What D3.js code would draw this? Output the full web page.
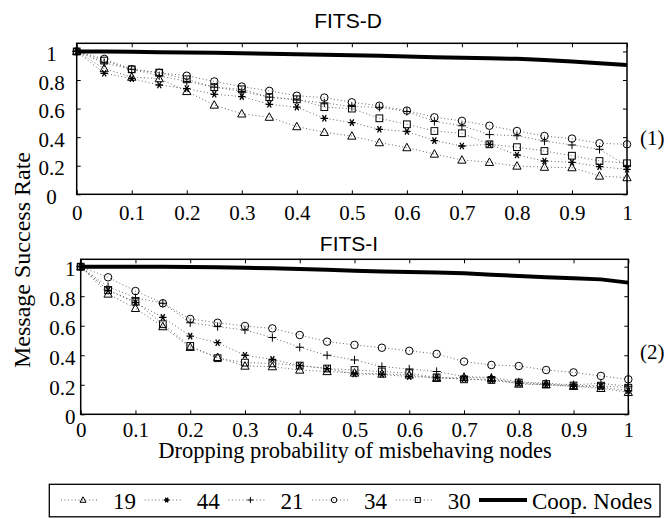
<!DOCTYPE html>
<html><head><meta charset="utf-8">
<script src="https://cdn.jsdelivr.net/npm/d3@7"></script>
<style>body{margin:0;background:#fff}svg{display:block}</style>
</head><body>
<script>
const xValues = [0,0.05,0.1,0.15,0.2,0.25,0.3,0.35,0.4,0.45,0.5,0.55,0.6,0.65,0.7,0.75,0.8,0.85,0.9,0.95,1];
const xTicks = [0,0.1,0.2,0.3,0.4,0.5,0.6,0.7,0.8,0.9,1];
const yTicks = [0,0.2,0.4,0.6,0.8,1];
const seriesNames = ["19","44","21","34","30"];
const seriesSymbols = ["triangle","star","plus","circle","square"];
const coopName = "Coop. Nodes";

// FITS-D panel
const d19 = [1,0.88,0.82,0.81,0.72,0.625,0.563,0.54,0.474,0.434,0.408,0.362,0.327,0.282,0.24,0.224,0.198,0.19,0.187,0.128,0.117];
const d44 = [1,0.847,0.81,0.765,0.74,0.70,0.684,0.63,0.61,0.532,0.502,0.455,0.44,0.376,0.338,0.35,0.275,0.233,0.224,0.194,0.175];
const d21 = [1,0.92,0.875,0.83,0.79,0.75,0.72,0.68,0.66,0.64,0.614,0.609,0.58,0.51,0.48,0.418,0.41,0.373,0.345,0.315,0.2];
const d34 = [1,0.948,0.875,0.85,0.83,0.79,0.754,0.724,0.69,0.677,0.644,0.62,0.586,0.539,0.514,0.48,0.443,0.408,0.39,0.357,0.35];
const d30 = [1,0.936,0.875,0.852,0.805,0.75,0.735,0.68,0.665,0.61,0.6,0.532,0.49,0.443,0.427,0.35,0.33,0.303,0.27,0.233,0.217];
const dCoop = [1,0.999,0.997,0.995,0.993,0.99,0.987,0.984,0.981,0.977,0.973,0.969,0.964,0.96,0.956,0.952,0.948,0.94,0.929,0.917,0.905];

// FITS-I panel
const i19 = [1,0.815,0.718,0.594,0.454,0.386,0.327,0.323,0.30,0.29,0.28,0.273,0.266,0.244,0.25,0.244,0.205,0.2,0.19,0.176,0.149];
const i44 = [1,0.84,0.756,0.657,0.53,0.485,0.40,0.372,0.33,0.31,0.273,0.27,0.255,0.25,0.24,0.23,0.21,0.2,0.19,0.185,0.16];
const i21 = [1,0.865,0.79,0.752,0.62,0.594,0.571,0.52,0.454,0.40,0.368,0.323,0.307,0.29,0.255,0.25,0.22,0.21,0.2,0.21,0.19];
const i34 = [1,0.928,0.835,0.752,0.646,0.62,0.598,0.582,0.537,0.492,0.47,0.451,0.43,0.409,0.357,0.334,0.327,0.30,0.284,0.26,0.237];
const i30 = [1,0.84,0.763,0.61,0.463,0.38,0.35,0.345,0.33,0.31,0.30,0.29,0.278,0.25,0.237,0.233,0.215,0.205,0.195,0.194,0.18];
const iCoop = [1,1,1,0.999,0.998,0.996,0.993,0.989,0.984,0.979,0.973,0.968,0.964,0.96,0.955,0.946,0.937,0.929,0.921,0.914,0.892];

const W = 668, H = 519;
const svg = d3.select("body").append("svg").attr("width", W).attr("height", H);
const SERIF = "'Liberation Serif','Times New Roman',serif";
const SANS = "'Liberation Sans',Arial,sans-serif";

function marker(g, type, x, y, s) {
  let el;
  if (type === "circle") el = g.append("circle").attr("cx", x).attr("cy", y).attr("r", s*0.5);
  else if (type === "square") el = g.append("rect").attr("x", x-s*0.45).attr("y", y-s*0.45).attr("width", s*0.9).attr("height", s*0.9);
  else if (type === "triangle") el = g.append("path").attr("d", `M${x},${y-s*0.58}L${x+s*0.55},${y+s*0.42}L${x-s*0.55},${y+s*0.42}Z`);
  else if (type === "plus") el = g.append("path").attr("d", `M${x-s*0.55},${y}H${x+s*0.55}M${x},${y-s*0.55}V${y+s*0.55}`);
  else {
    const r = s*0.5; let d = `M${x-r},${y}H${x+r}`;
    [60,120].forEach(a => { const dx = r*Math.cos(a*Math.PI/180), dy = r*Math.sin(a*Math.PI/180); d += `M${x-dx},${y-dy}L${x+dx},${y+dy}`; });
    el = g.append("path").attr("d", d);
  }
  el.attr("stroke","#000").attr("fill","none").attr("stroke-width", type === "star" ? 1.3 : 1);
  return el;
}

function panel(cfg) {
  const x = d3.scaleLinear().domain([0,1]).range([cfg.x0, cfg.x1]);
  const y = d3.scaleLinear().domain([0, cfg.ymax]).range([cfg.yb, cfg.yt]);
  const g = svg.append("g");
  g.append("rect").attr("x", cfg.x0).attr("y", cfg.yt).attr("width", cfg.x1-cfg.x0).attr("height", cfg.yb-cfg.yt)
    .attr("fill","none").attr("stroke","#000").attr("stroke-width",1.5);
  const ax = g.append("g").attr("transform", `translate(0,${cfg.yb})`)
    .call(d3.axisBottom(x).tickValues(xTicks).tickSizeInner(-4).tickSizeOuter(0).tickPadding(0).tickFormat(d3.format("~g")));
  ax.select(".domain").remove();
  ax.attr("font-family", null).attr("font-size", null);
  ax.selectAll("text").attr("y", cfg.xlabY - cfg.yb).attr("dy", 0)
    .style("font-family", SERIF).style("font-size", "21px").attr("fill","#000");
  const axt = g.append("g").attr("transform", `translate(0,${cfg.yt})`)
    .call(d3.axisTop(x).tickValues(xTicks).tickSizeInner(-4).tickSizeOuter(0).tickFormat(""));
  axt.select(".domain").remove();
  const ay = g.append("g").attr("transform", `translate(${cfg.x0},0)`)
    .call(d3.axisLeft(y).tickValues(yTicks).tickSizeInner(-4).tickSizeOuter(0).tickFormat(d3.format("~g")));
  ay.select(".domain").remove();
  ay.attr("font-family", null).attr("font-size", null);
  ay.selectAll("text").attr("x", cfg.ylabX - cfg.x0).attr("dy", "0.32em").attr("transform","translate(0,2.5)")
    .attr("text-anchor", cfg.ylabAnchor).style("font-family", SERIF).style("font-size", "21px").attr("fill","#000");
  const ayr = g.append("g").attr("transform", `translate(${cfg.x1},0)`)
    .call(d3.axisRight(y).tickValues(yTicks).tickSizeInner(-4).tickSizeOuter(0).tickFormat(""));
  ayr.select(".domain").remove();
  g.selectAll(".tick line").attr("stroke","#000").attr("stroke-width",1);

  const line = d3.line().x((d,i) => x(xValues[i])).y(d => y(d));
  cfg.series.forEach((s) => {
    g.append("path").attr("d", line(s)).attr("fill","none").attr("stroke","#666")
      .attr("stroke-width",1).attr("stroke-dasharray","1,2.5");
  });
  cfg.series.forEach((s, k) => {
    const mg = g.append("g");
    s.forEach((v,i) => marker(mg, seriesSymbols[k], x(xValues[i]), y(v), 7.5));
  });
  g.append("path").attr("d", line(cfg.coop)).attr("fill","none").attr("stroke","#000").attr("stroke-width",4);
  svg.append("text").attr("x", cfg.titleX).attr("y", cfg.titleY).attr("text-anchor","middle")
    .style("font-family", SANS).style("font-size", "21px").text(cfg.title);
  svg.append("text").attr("x", 640).attr("y", cfg.tagY).style("font-family", SERIF).style("font-size", "21px").text(cfg.tag);
}

panel({x0:76.7, x1:627, yb:194.3, yt:43.3, ymax:1.057, xlabY:220, ylabX:51.5, ylabAnchor:"middle",
  series:[d19,d44,d21,d34,d30], coop:dCoop, title:"FITS-D", titleX:348, titleY:27.5, tag:"(1)", tagY:145});
panel({x0:80.7, x1:628.3, yb:414.3, yt:259.3, ymax:1.05, xlabY:437.5, ylabX:75.5, ylabAnchor:"end",
  series:[i19,i44,i21,i34,i30], coop:iCoop, title:"FITS-I", titleX:349, titleY:250.5, tag:"(2)", tagY:359});

svg.append("text").attr("transform","translate(30,260) rotate(-90)").attr("text-anchor","middle")
  .style("font-family", SERIF).style("font-size", "24px").text("Message Success Rate");
svg.append("text").attr("x", 355).attr("y", 458).attr("text-anchor","middle")
  .style("font-family", SERIF).style("font-size", "22.5px").text("Dropping probability of misbehaving nodes");

const lg = svg.append("g");
lg.append("rect").attr("x",49.3).attr("y",484.3).attr("width",610.7).attr("height",32.5)
  .attr("fill","none").attr("stroke","#000").attr("stroke-width",1.3);
const lx = [83, 166.7, 250.4, 334.1, 417.8];
seriesNames.forEach((n,k) => {
  lg.append("line").attr("x1", lx[k]-22).attr("x2", lx[k]+14).attr("y1",500).attr("y2",500)
    .attr("stroke","#666").attr("stroke-width",1).attr("stroke-dasharray","1,2.5");
  marker(lg, seriesSymbols[k], lx[k], 500, 5.5);
  lg.append("text").attr("x", lx[k]+30).attr("y", 508.5).style("font-family", SERIF).style("font-size", "23px").text(n);
});
lg.append("line").attr("x1",479).attr("x2",527).attr("y1",500).attr("y2",500).attr("stroke","#000").attr("stroke-width",4);
lg.append("text").attr("x",532).attr("y",508.5).style("font-family", SERIF).style("font-size", "23px").text(coopName);
</script>
</body></html>
